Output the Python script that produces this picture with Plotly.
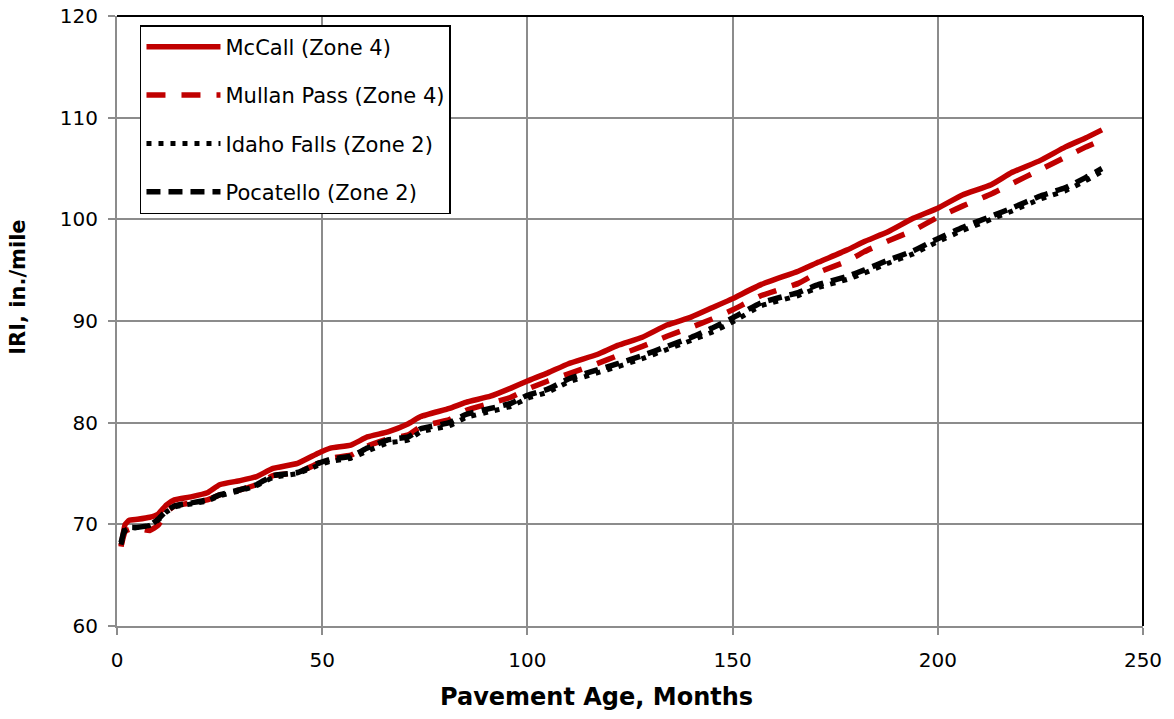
import plotly.graph_objects as go

# Pavement age (months) at which IRI is tabulated
months = [1, 2, 3, 5, 8, 10, 12, 14, 18, 22, 25, 30, 34, 38, 44, 49, 52, 57, 61, 66,
          71, 74, 81, 85, 91, 96, 100, 105, 110, 117, 122, 128, 134, 140, 145, 150,
          157, 166, 171, 178, 182, 188, 194, 200, 206, 213, 218, 225, 231, 236, 240]

# Predicted IRI, in./mile
mccall = [67.8, 70.0, 70.4, 70.5, 70.7, 71.0, 71.9, 72.4, 72.7, 73.1, 73.9, 74.3, 74.7,
          75.5, 76.0, 77.0, 77.5, 77.8, 78.6, 79.1, 79.9, 80.6, 81.4, 82.0, 82.6, 83.4,
          84.1, 84.9, 85.8, 86.7, 87.6, 88.4, 89.6, 90.4, 91.3, 92.2, 93.6, 94.9, 95.8,
          97.0, 97.8, 98.8, 100.1, 101.1, 102.4, 103.4, 104.6, 105.8, 107.1, 108.0, 108.8]

mullan_pass = [67.9, 69.3, 69.5, 69.6, 69.4, 69.9, 71.2, 71.8, 72.1, 72.4, 72.9, 73.4, 73.9,
               74.8, 75.1, 76.0, 76.5, 76.8, 77.7, 78.4, 78.8, 79.6, 80.3, 81.2, 81.9, 82.5,
               83.3, 84.1, 84.8, 85.8, 86.6, 87.5, 88.5, 89.4, 90.2, 91.1, 92.5, 93.7, 94.8,
               95.9, 96.8, 97.9, 98.9, 100.2, 101.3, 102.5, 103.5, 104.9, 106.1, 107.1, 107.8]

idaho_falls = [68.0, 69.4, 69.6, 69.7, 69.9, 70.4, 71.2, 71.7, 72.0, 72.3, 72.8, 73.3, 73.8,
               74.6, 75.0, 75.8, 76.2, 76.5, 77.2, 78.0, 78.3, 79.1, 79.7, 80.5, 81.1, 81.6,
               82.4, 83.0, 84.0, 84.9, 85.5, 86.3, 87.2, 88.1, 88.9, 89.9, 91.5, 92.5, 93.3,
               94.1, 94.7, 95.7, 96.6, 97.8, 98.9, 100.0, 100.8, 102.0, 102.8, 103.8, 104.7]

pocatello = [68.2, 69.6, 69.7, 69.7, 69.9, 70.5, 71.3, 71.8, 72.1, 72.4, 72.9, 73.4, 73.9,
             74.8, 75.1, 76.0, 76.4, 76.7, 77.5, 78.3, 78.6, 79.4, 80.0, 80.8, 81.4, 81.9,
             82.7, 83.3, 84.3, 85.2, 85.8, 86.6, 87.5, 88.4, 89.3, 90.3, 91.8, 92.8, 93.6,
             94.4, 95.0, 96.0, 96.9, 98.1, 99.2, 100.3, 101.1, 102.3, 103.1, 104.1, 105.0]

series_names = ["McCall (Zone 4)", "Mullan Pass (Zone 4)",
                "Idaho Falls (Zone 2)", "Pocatello (Zone 2)"]

x_ticks = [0, 50, 100, 150, 200, 250]
y_ticks = [60, 70, 80, 90, 100, 110, 120]

RED = "#c00000"
GRID = "#8c8c8c"
FONT = "DejaVu Sans"

styles = [
    dict(color=RED, width=5.5, dash="solid"),
    dict(color=RED, width=5.5, dash="19px,16px"),
    dict(color="black", width=5, dash="5px,7px"),
    dict(color="black", width=5.5, dash="14px,8px"),
]

fig = go.Figure()
for name, ys, st in zip(series_names, [mccall, mullan_pass, idaho_falls, pocatello], styles):
    fig.add_trace(go.Scatter(
        x=months, y=ys, name=name, mode="lines",
        line=dict(color=st["color"], width=st["width"], dash=st["dash"], shape="spline",
                  smoothing=0.4),
        legendgroup=name,
    ))

axis_common = dict(
    showgrid=True, gridcolor=GRID, gridwidth=2,
    showline=True, linecolor=GRID, linewidth=2,
    ticks="outside", ticklen=7, tickwidth=2, tickcolor=GRID,
    tickfont=dict(family=FONT, size=20, color="black"),
    zeroline=False, automargin=False,
)

fig.update_xaxes(
    range=[0, 250], tickvals=x_ticks, ticktext=[str(v) for v in x_ticks],
    ticklabelstandoff=8,
    **axis_common,
)
fig.update_yaxes(
    range=[60, 120], tickvals=y_ticks, ticktext=[str(v) for v in y_ticks],
    ticklabelstandoff=6,
    **axis_common,
)

# axis titles
fig.add_annotation(text="<b>Pavement Age, Months</b>", xref="paper", yref="paper",
                   x=0.467, y=-0.1164, xanchor="center", yanchor="middle", showarrow=False,
                   font=dict(family=FONT, size=24, color="black"))
fig.add_annotation(text="<b>IRI, in./mile</b>", xref="paper", yref="paper",
                   x=-0.0965, y=0.556, xanchor="center", yanchor="middle", showarrow=False,
                   textangle=-90, font=dict(family=FONT, size=21, color="black"))

# black frame on top and right sides of the plotting area
fig.add_shape(type="line", xref="paper", yref="paper", x0=0, x1=1, y0=1, y1=1,
              line=dict(color="black", width=2), layer="above")
fig.add_shape(type="line", xref="paper", yref="paper", x0=1, x1=1, y0=0, y1=1,
              line=dict(color="black", width=2), layer="above")

fig.update_layout(
    width=1174, height=719,
    margin=dict(l=117, r=31, t=16, b=93),
    paper_bgcolor="white", plot_bgcolor="white",
    font=dict(family=FONT, size=20, color="black"),
    legend=dict(
        x=0.0224, y=0.985, xanchor="left", yanchor="top",
        bgcolor="white", bordercolor="black", borderwidth=1.5,
        font=dict(family=FONT, size=21, color="black"),
        itemwidth=74, tracegroupgap=18, traceorder="grouped",
    ),
)

fig.write_html("out.html")
